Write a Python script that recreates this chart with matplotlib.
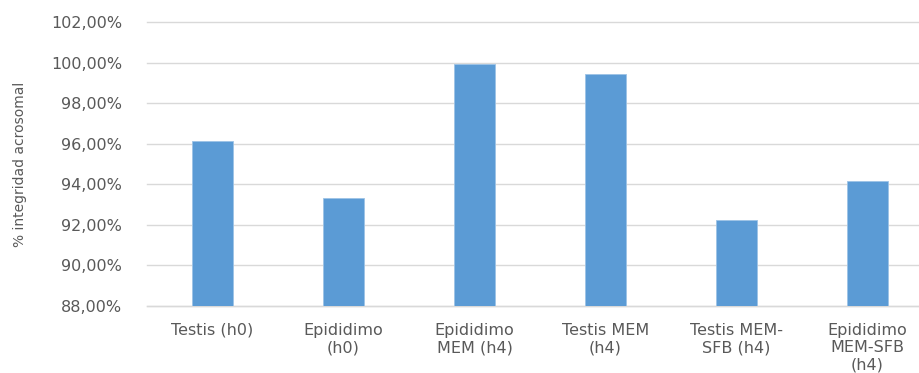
import matplotlib
matplotlib.use("Agg")
import matplotlib.pyplot as plt
from matplotlib.ticker import FuncFormatter

categories = [
    "Testis (h0)",
    "Epididimo\n(h0)",
    "Epididimo\nMEM (h4)",
    "Testis MEM\n(h4)",
    "Testis MEM-\nSFB (h4)",
    "Epididimo\nMEM-SFB\n(h4)",
]
integridad = [96.15, 93.30, 99.95, 99.45, 92.25, 94.15]
y_ticks = [88, 90, 92, 94, 96, 98, 100, 102]

text_color = "#595959"
grid_color = "#d9d9d9"
bar_color = "#5b9bd5"

plt.rcParams["font.family"] = ["DejaVu Sans"]

fig = plt.figure(figsize=(9.2, 3.73), dpi=100)
ax = fig.add_axes([147 / 920, 67 / 373, 786 / 920, 284 / 373])

x = list(range(len(categories)))
ax.bar(x, integridad, width=0.31, bottom=0, color=bar_color,
       edgecolor="#9dc3e6", linewidth=0.6, zorder=3)

ax.set_ylim(88, 102)
ax.set_xlim(-0.5, len(categories) - 0.5)
ax.set_yticks(y_ticks)
ax.yaxis.set_major_formatter(FuncFormatter(lambda v, p: f"{v:.2f}%".replace(".", ",")))
ax.grid(axis="y", color=grid_color, linewidth=1.0, zorder=0)
for gl in ax.get_ygridlines():
    gl.set_clip_on(False)
ax.set_axisbelow(True)

for side in ["top", "right", "left"]:
    ax.spines[side].set_visible(False)
ax.spines["bottom"].set_color(grid_color)
ax.spines["bottom"].set_linewidth(1.0)

ax.tick_params(axis="both", length=0, colors=text_color)
ax.tick_params(axis="y", pad=18, labelsize=11.5)
ax.tick_params(axis="x", pad=12, labelsize=11.5)
ax.set_xticks(x)
ax.set_xticklabels(categories, linespacing=1.2)

ax.set_ylabel("% integridad acrosomal", color=text_color, fontsize=10)
ax.yaxis.set_label_coords(-0.153, 0.5)

fig.savefig("out.png", dpi=100)
